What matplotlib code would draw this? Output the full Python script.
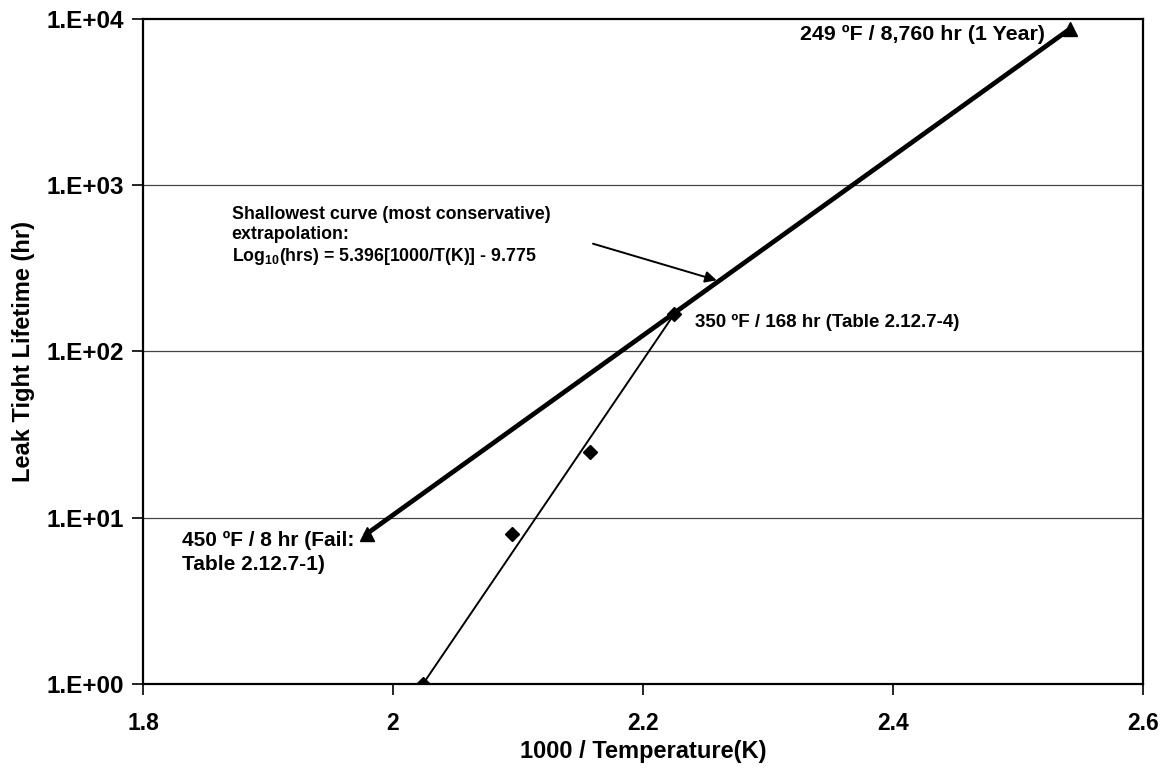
import matplotlib
matplotlib.use("Agg")
import matplotlib.pyplot as plt
from matplotlib.ticker import FixedLocator, FixedFormatter, NullLocator

plt.rcParams['font.family'] = ['Liberation Sans', 'DejaVu Sans']
plt.rcParams['font.weight'] = 'bold'
plt.rcParams['mathtext.fontset'] = 'custom'
plt.rcParams['mathtext.rm'] = 'Liberation Sans:bold'
plt.rcParams['mathtext.bf'] = 'Liberation Sans:bold'

# test data (diamonds)
test_x = [2.024, 2.095, 2.158, 2.225]
test_hr = [1.0, 8.0, 25.0, 168.0]

# steep line through first and last test point
steep_x = [2.024, 2.225]
steep_hr = [1.0, 168.0]

# shallowest extrapolation (triangles at ends)
shallow_x = [1.979, 2.542]
shallow_hr = [8.0, 8760.0]

x_ticks = [1.8, 2.0, 2.2, 2.4, 2.6]
x_labels = ['1.8', '2', '2.2', '2.4', '2.6']
y_ticks = [1, 10, 100, 1000, 10000]
y_labels = ['1.E+00', '1.E+01', '1.E+02', '1.E+03', '1.E+04']

fig = plt.figure(figsize=(11.7, 7.81), dpi=100)
ax = fig.add_axes([0.1222, 0.1242, 0.8547, 0.8515])

ax.set_yscale('log')
ax.set_xlim(1.8, 2.6)
ax.set_ylim(1, 10000)

for yv in y_ticks[1:-1]:
    ax.axhline(yv, color='#444444', lw=0.9, zorder=1)

ax.plot(steep_x, steep_hr, color='black', lw=1.4, zorder=3)
ax.plot(test_x, test_hr, linestyle='none', marker='D', ms=7, color='black', zorder=4)
ax.plot(shallow_x, shallow_hr, color='black', lw=3.4, marker='^', ms=10, zorder=3)

ax.xaxis.set_major_locator(FixedLocator(x_ticks))
ax.xaxis.set_major_formatter(FixedFormatter(x_labels))
ax.yaxis.set_major_locator(FixedLocator(y_ticks))
ax.yaxis.set_major_formatter(FixedFormatter(y_labels))
ax.yaxis.set_minor_locator(NullLocator())
ax.tick_params(axis='both', direction='out', length=8, width=1.2, colors='black')
ax.tick_params(axis='x', pad=12, labelsize=16.5)
ax.tick_params(axis='y', pad=6, labelsize=17.5)
for lbl in ax.get_xticklabels() + ax.get_yticklabels():
    lbl.set_fontweight('bold')
for s in ax.spines.values():
    s.set_linewidth(1.6)
    s.set_color('black')

ax.set_xlabel('1000 / Temperature(K)', fontsize=17, fontweight='bold', labelpad=4)
ax.set_ylabel('Leak Tight Lifetime (hr)', fontsize=17, fontweight='bold', labelpad=8)

ax.text(2.3256, 8100, '249 ºF / 8,760 hr (1 Year)', fontsize=15.4, fontweight='bold',
        ha='left', va='center')
ax.text(2.2416, 150, '350 ºF / 168 hr (Table 2.12.7-4)', fontsize=13.5, fontweight='bold',
        ha='left', va='center')
ax.text(1.831, 6.2, '450 ºF / 8 hr (Fail:\nTable 2.12.7-1)', fontsize=15, fontweight='bold',
        ha='left', va='center', linespacing=1.3)
ax.text(1.871, 490, 'Shallowest curve (most conservative)\nextrapolation:\n'
        r'Log$_{10}$(hrs) = 5.396[1000/T(K)] - 9.775',
        fontsize=12.8, fontweight='bold', ha='left', va='center', linespacing=1.2)
ax.annotate('', xy=(2.259, 268), xytext=(2.16, 445),
            arrowprops=dict(arrowstyle='-|>', color='black', lw=1.4, mutation_scale=17,
                            shrinkA=0, shrinkB=0))

fig.savefig('out.png', dpi=100)
